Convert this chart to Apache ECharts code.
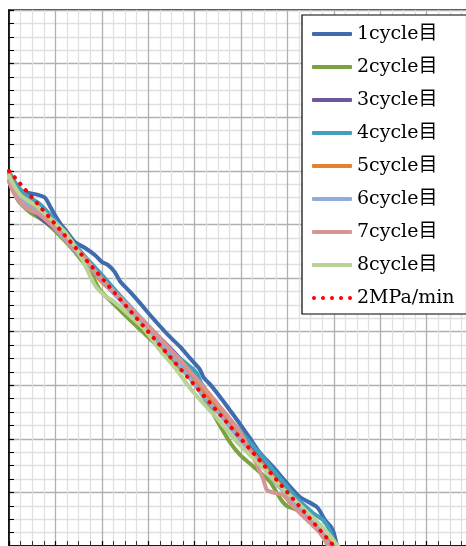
<!DOCTYPE html>
<html>
<head>
<meta charset="utf-8">
<script src="https://cdn.jsdelivr.net/npm/echarts@6/dist/echarts.min.js"></script>
<style>
html,body{margin:0;padding:0;background:#fff;}
#c{width:466px;height:546px;}
</style>
</head>
<body>
<div id="c"></div>
<script>
// x: time (min), y: pressure (MPa)
const seriesNames = ['1cycle目','2cycle目','3cycle目','4cycle目','5cycle目','6cycle目','7cycle目','8cycle目','2MPa/min'];

const cycle1 = [[0,13.96],[0.11,13.58],[0.28,13.25],[0.63,13.10],[0.78,12.99],[0.88,12.69],[0.99,12.35],[1.10,12.05],[1.25,11.72],[1.42,11.34],[1.64,11.12],[1.85,10.86],[2.00,10.60],[2.13,10.49],[2.28,10.22],[2.39,9.89],[2.61,9.48],[2.82,9.07],[3.04,8.62],[3.25,8.21],[3.47,7.80],[3.69,7.43],[3.90,7.01],[4.05,6.72],[4.12,6.57],[4.20,6.27],[4.33,6.04],[4.55,5.56],[4.76,5.07],[4.98,4.55],[5.19,4.03],[5.41,3.47],[5.69,2.95],[5.99,2.35],[6.27,1.83],[6.64,1.45],[6.81,0.97],[6.94,0.71],[7.00,0.49],[7.07,0]];
const cycle2 = [[0,13.84],[0.19,12.91],[0.45,12.46],[0.78,12.09],[1.10,11.57],[1.42,10.97],[1.75,10.22],[1.96,9.55],[2.28,8.99],[2.61,8.43],[2.93,7.91],[3.25,7.39],[3.58,6.83],[3.90,6.27],[4.12,5.75],[4.33,5.15],[4.55,4.48],[4.76,3.88],[4.98,3.40],[5.30,2.91],[5.63,2.39],[5.84,1.79],[5.99,1.49],[6.21,1.34],[6.49,0.90],[6.75,0.41],[6.92,0]];
const cycle3 = [[0,13.96],[0.09,13.47],[0.17,12.99],[0.28,12.84],[0.45,12.61],[0.78,12.09],[1.10,11.72],[1.21,11.49],[1.53,10.86],[1.96,10.04],[2.39,9.25],[2.82,8.51],[3.04,8.13],[3.47,7.39],[3.90,6.57],[4.33,5.63],[4.76,4.70],[5.19,3.77],[5.63,2.84],[6.06,1.90],[6.49,1.04],[6.81,0.34],[6.94,0]];
const cycle4 = [[0,13.96],[0.13,13.58],[0.34,13.13],[0.67,12.75],[0.99,12.15],[1.31,11.45],[1.64,10.80],[1.96,10.20],[2.39,9.35],[2.82,8.55],[3.25,7.75],[3.47,7.31],[3.90,6.70],[4.05,6.45],[4.15,6.05],[4.33,5.60],[4.55,5.15],[4.87,4.51],[5.19,3.88],[5.52,3.21],[5.84,2.54],[6.16,1.87],[6.55,1.23],[6.77,0.97],[6.92,0.56],[7.03,0]];
const cycle5 = [[0,13.88],[0.13,13.36],[0.34,12.91],[0.67,12.46],[0.99,11.87],[1.31,11.23],[1.64,10.60],[1.96,9.93],[2.28,9.40],[2.50,8.99],[2.82,8.36],[3.25,7.54],[3.69,6.79],[4.12,5.90],[4.55,5.00],[4.98,4.03],[5.41,3.17],[5.84,2.28],[6.27,1.42],[6.59,0.78],[6.88,0.22],[6.96,0]];
const cycle6 = [[0,13.66],[0.13,13.10],[0.45,12.65],[0.78,12.24],[1.10,11.64],[1.42,11.04],[1.75,10.41],[2.07,9.78],[2.39,9.18],[2.82,8.43],[3.25,7.61],[3.69,6.72],[4.01,6.01],[4.22,5.52],[4.55,4.89],[4.98,3.96],[5.41,3.10],[5.73,2.39],[6.06,1.79],[6.38,1.23],[6.70,0.60],[6.92,0]];
const cycle7 = [[0,13.58],[0.13,13.10],[0.34,12.65],[0.67,12.35],[0.99,11.87],[1.31,11.31],[1.64,10.75],[1.96,10.04],[2.39,9.29],[2.82,8.54],[3.25,7.76],[3.69,6.94],[4.12,6.08],[4.55,5.19],[4.98,4.25],[5.19,3.58],[5.47,2.54],[5.56,2.09],[5.73,1.98],[5.91,1.90],[6.06,1.60],[6.27,1.23],[6.49,0.86],[6.70,0.49],[6.88,0]];
const cycle8 = [[0,13.81],[0.24,13.10],[0.56,12.72],[0.88,12.24],[1.21,11.72],[1.53,10.86],[1.85,9.74],[2.07,9.33],[2.28,9.10],[2.61,8.58],[2.93,8.06],[3.25,7.31],[3.58,6.64],[3.90,5.90],[4.22,5.26],[4.55,4.63],[4.87,3.96],[5.19,3.40],[5.52,2.84],[5.84,2.24],[6.16,1.72],[6.49,1.16],[6.81,0.60],[7.09,0]];
const rate2MPa = [[0,14],[7,0]];

const allData = [cycle1,cycle2,cycle3,cycle4,cycle5,cycle6,cycle7,cycle8,rate2MPa];
const colors = ['#3f6cad','#7aa23f','#70579b','#42a0bc','#e5812f','#92acd8','#d59593','#b9d296','#ff0000'];

const dotsIcon = 'path://M0,2a2,2 0 1,0 4,0a2,2 0 1,0 -4,0z M9,2a2,2 0 1,0 4,0a2,2 0 1,0 -4,0z M18,2a2,2 0 1,0 4,0a2,2 0 1,0 -4,0z M27,2a2,2 0 1,0 4,0a2,2 0 1,0 -4,0z M36,2a2,2 0 1,0 4,0a2,2 0 1,0 -4,0z';

const chart = echarts.init(document.getElementById('c'), null, {renderer:'canvas'});
const series = allData.map((d,i)=>{
  const isRate = i === 8;
  return {
    name: seriesNames[i],
    type: 'line',
    data: d,
    symbol: 'none',
    smooth: isRate ? false : 0.25,
    clip: true,
    color: colors[i],
    itemStyle: {color: colors[i]},
    lineStyle: isRate
      ? {color: colors[i], width: 4, type: [0.5, 8], cap: 'round'}
      : {color: colors[i], width: 4, cap: 'round', join: 'round'},
    z: isRate ? 5 : 2
  };
});

const axisCommon = {
  type: 'value',
  axisLabel: {show: false},
  axisLine: {show: true, onZero: false, lineStyle: {color: '#000', width: 1.5}},
  axisTick: {show: true, inside: true, length: 5, lineStyle: {color: '#000', width: 1.2}},
  minorTick: {show: true, splitNumber: 4, length: 5, lineStyle: {color: '#000', width: 1}},
  splitLine: {show: true, lineStyle: {color: '#b0b0b0', width: 1.3}},
  minorSplitLine: {show: true, lineStyle: {color: '#e0e0e0', width: 1.3}}
};

chart.setOption({
  animation: false,
  backgroundColor: '#fff',
  grid: {left: 9, top: 10, width: 464, height: 536, show: true, borderColor: '#000', borderWidth: 1.5, backgroundColor: 'transparent', outerBoundsMode: 'none', containLabel: false},
  xAxis: Object.assign({}, axisCommon, {min: 0, max: 10, interval: 1,
    minorTick: {show: true, splitNumber: 4, length: 5, lineStyle: {color: '#333', width: 1}}}),
  yAxis: Object.assign({}, axisCommon, {min: 0, max: 20, interval: 2}),
  legend: {
    show: true,
    orient: 'vertical',
    left: 302,
    top: 15,
    itemWidth: 40,
    itemHeight: 4,
    itemGap: 13,
    padding: [9, 12, 6, 10],
    backgroundColor: '#fff',
    borderColor: '#000',
    borderWidth: 1.2,
    borderRadius: 0,
    textStyle: {fontFamily: '"DejaVu Serif", "Noto Sans CJK JP", serif', fontSize: 19, color: '#000', lineHeight: 20},
    data: seriesNames.map((n,i)=>({name: n, icon: i === 8 ? dotsIcon : 'roundRect', itemStyle: {color: colors[i]}}))
  },
  series: series
});
</script>
</body>
</html>
